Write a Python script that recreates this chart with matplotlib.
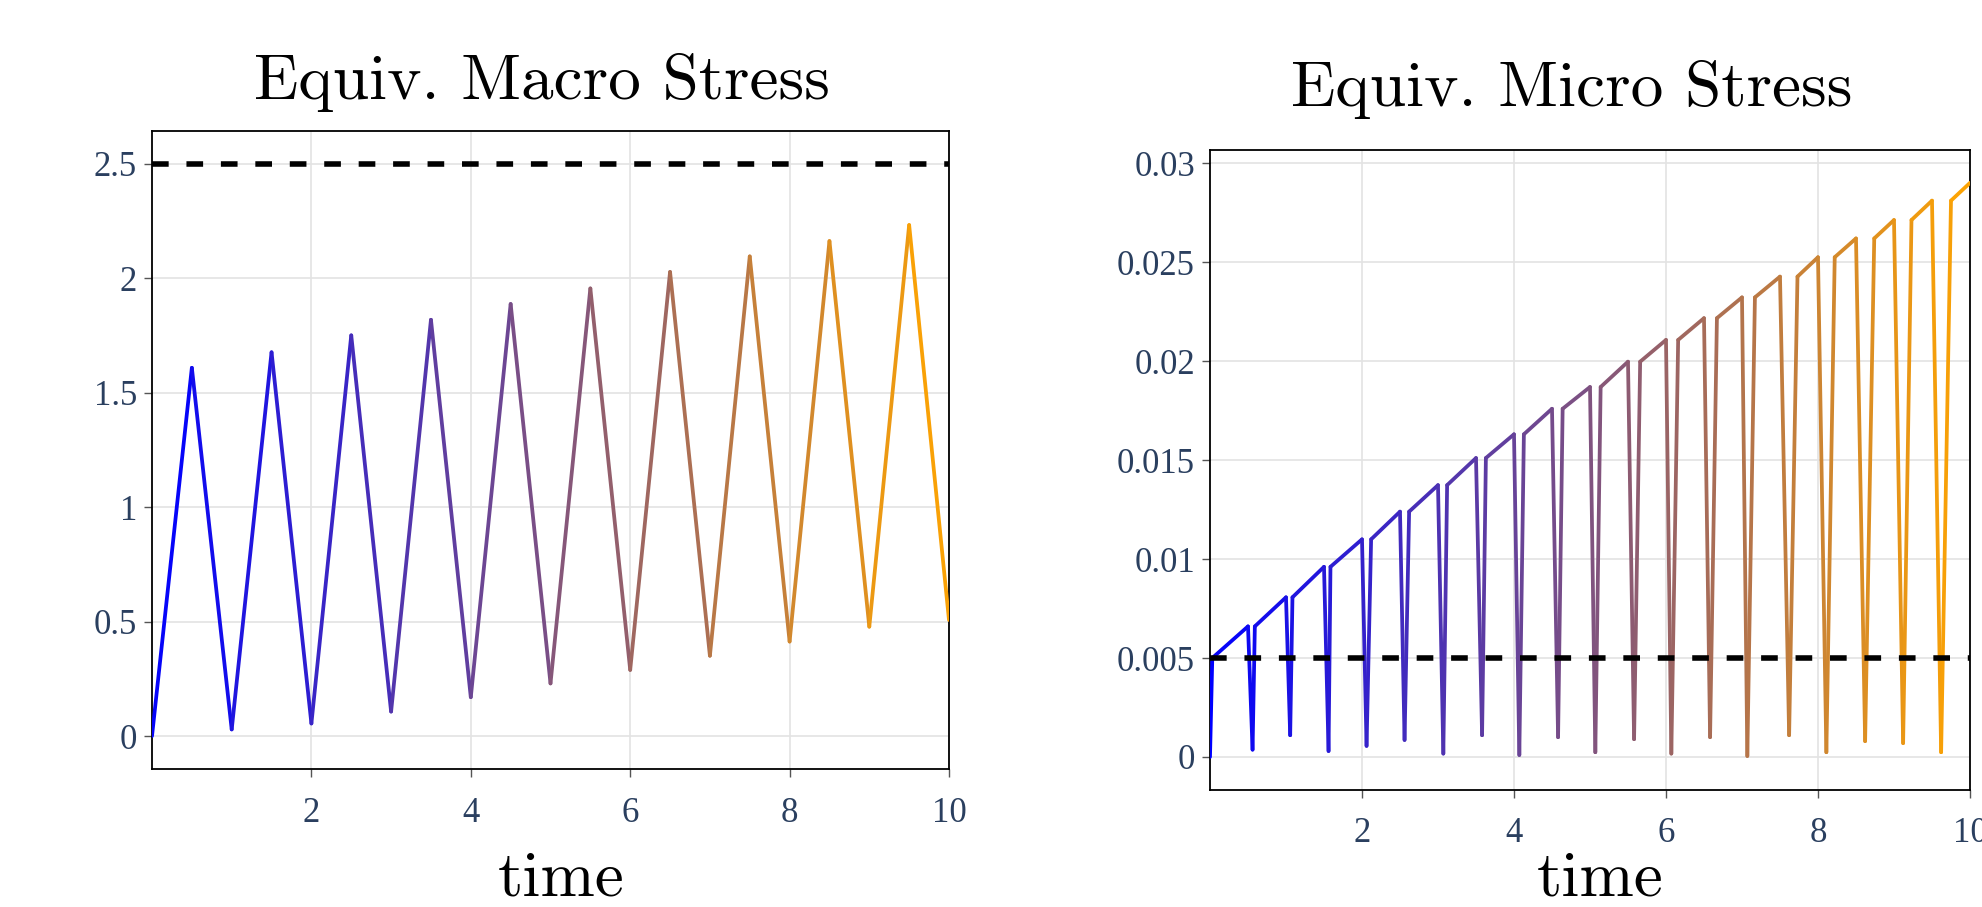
import numpy as np
import matplotlib
matplotlib.use("Agg")
import matplotlib.pyplot as plt
from matplotlib.collections import LineCollection

# macro stress (left panel)
macro_t = [0, 0.5, 1, 1.5, 2, 2.5, 3, 3.5, 4, 4.5, 5, 5.5, 6, 6.5, 7, 7.5, 8, 8.5, 9, 9.5, 10]
macro_v = [0, 1.609, 0.029, 1.677, 0.055, 1.751, 0.107, 1.819, 0.170, 1.888, 0.230,
           1.956, 0.289, 2.028, 0.351, 2.096, 0.413, 2.163, 0.478, 2.233, 0.507]
macro_limit = 2.5

# micro stress (right panel)
micro_t = [0, 0.03, 0.5, 0.56, 0.59, 1.0, 1.055, 1.085, 1.5, 1.56, 1.585, 2.0, 2.06, 2.12,
           2.5, 2.56, 2.62, 3.0, 3.07, 3.12, 3.5, 3.58, 3.63, 4.0, 4.07, 4.13, 4.5, 4.58, 4.64,
           5.0, 5.07, 5.14, 5.5, 5.58, 5.66, 6.0, 6.07, 6.16, 6.5, 6.58, 6.67, 7.0, 7.07, 7.17,
           7.5, 7.62, 7.73, 8.0, 8.11, 8.22, 8.5, 8.62, 8.74, 9.0, 9.12, 9.23, 9.5, 9.62, 9.75, 10.0]
micro_v = [0, 0.005, 0.0066, 0.00037, 0.0066, 0.00807, 0.0011, 0.00807, 0.00961, 0.0003, 0.00961,
           0.0110, 0.00056, 0.0110, 0.0124, 0.00086, 0.0124, 0.01374, 0.00017, 0.01374,
           0.01511, 0.0011, 0.01511, 0.01631, 0.0001, 0.01631, 0.0176, 0.001, 0.0176,
           0.0187, 0.00024, 0.0187, 0.01998, 0.0009, 0.01998, 0.02108, 0.00017, 0.02108,
           0.02218, 0.001, 0.02218, 0.02323, 0.00005, 0.02323, 0.02428, 0.0011, 0.02428,
           0.02526, 0.00024, 0.02526, 0.02621, 0.0008, 0.02621, 0.02714, 0.0007, 0.02714,
           0.02812, 0.00024, 0.02812, 0.02902]
micro_limit = 0.005

x_ticks = [2, 4, 6, 8, 10]
macro_yticks = [0, 0.5, 1, 1.5, 2, 2.5]
macro_ylabels = ['0', '0.5', '1', '1.5', '2', '2.5']
micro_yticks = [0, 0.005, 0.01, 0.015, 0.02, 0.025, 0.03]
micro_ylabels = ['0', '0.005', '0.01', '0.015', '0.02', '0.025', '0.03']

c_start = np.array([0.0, 0.0, 1.0])        # blue
c_end = np.array([1.0, 165 / 255, 0.0])    # orange
tick_color = '#2a3f5f'


def gradient_line(ax, t, v):
    t = np.asarray(t)
    v = np.asarray(v)
    pts = np.column_stack([t, v]).reshape(-1, 1, 2)
    segs = np.concatenate([pts[:-1], pts[1:]], axis=1)
    frac = ((t[:-1] + t[1:]) / 2) / 10.0
    cols = [tuple(c_start + (c_end - c_start) * f) for f in frac]
    lc = LineCollection(segs, colors=cols, linewidths=2.7, capstyle='round', joinstyle='round', zorder=3)
    ax.add_collection(lc)


def style_axes(ax, yticks, ylabels, ylim):
    ax.set_xlim(0, 10)
    ax.set_ylim(*ylim)
    ax.set_xticks(x_ticks)
    ax.set_xticklabels([str(x) for x in x_ticks])
    ax.set_yticks(yticks)
    ax.set_yticklabels(ylabels)
    ax.grid(True, color='#e3e3e3', lw=1.2, zorder=0)
    ax.set_axisbelow(True)
    for s in ax.spines.values():
        s.set_color('black')
        s.set_linewidth(1.3)
    ax.tick_params(axis='both', direction='out', length=5.8, width=1, color='#555555',
                   labelcolor=tick_color, labelsize=25)
    ax.tick_params(axis='x', pad=14)
    ax.tick_params(axis='y', pad=5)
    for lab in ax.get_xticklabels() + ax.get_yticklabels():
        lab.set_fontfamily('Liberation Serif')


fig = plt.figure(figsize=(19.82, 9.07), dpi=100)
W, H = 1982, 907

ax1 = fig.add_axes([152 / W, 1 - 769 / H, 797 / W, 638 / H])
gradient_line(ax1, macro_t, macro_v)
ax1.axhline(macro_limit, color='black', lw=4, linestyle=(0, (3.0, 3.2)), zorder=4)
style_axes(ax1, macro_yticks, macro_ylabels, (-0.144, 2.644))

ax2 = fig.add_axes([1210 / W, 1 - 790 / H, 760 / W, 640 / H])
gradient_line(ax2, micro_t, micro_v)
ax2.axhline(micro_limit, color='black', lw=4, linestyle=(0, (3.0, 3.2)), zorder=4)
style_axes(ax2, micro_yticks, micro_ylabels, (-0.00167, 0.03068))

cm = dict(fontfamily='cmr10', fontsize=47, ha='center', va='baseline')
fig.text(542 / W, 1 - 99 / H, 'Equiv. Macro Stress', **cm)
fig.text(1572 / W, 1 - 106 / H, 'Equiv. Micro Stress', **cm)
fig.text(561 / W, 1 - 895 / H, 'time', **cm)
fig.text(1600 / W, 1 - 895 / H, 'time', **cm)

fig.savefig('out.png', dpi=100, facecolor='white')
